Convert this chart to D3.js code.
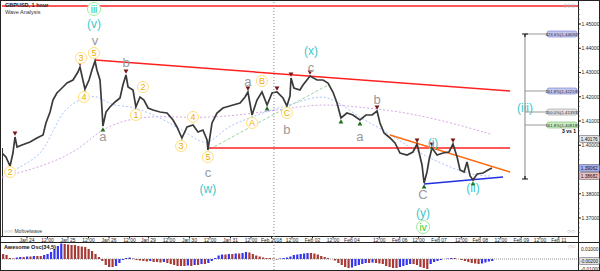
<!DOCTYPE html>
<html>
<head>
<meta charset="utf-8">
<script src="https://cdn.jsdelivr.net/npm/d3@7"></script>
<style>
body { margin: 0; background: #fff; }
svg { display: block; font-family: "Liberation Sans", Arial, sans-serif; }
</style>
</head>
<body>
<svg id="chart" width="600" height="271"></svg>
<script>
// hourly price path (hours from Jan 24 00:00, trading hours only)
const price_hours = [-14.6,-12.3,-9.9,-8.2,-7.0,-5.8,-2.9,1.8,5.8,9.4,11.1,13.5,15.2,17.5,20.5,23.4,26.9,29.8,31.0,32.7,
  33.9,36.3,38.0,39.8,40.9,42.7,43.9,44.4,46.2,48.5,51.5,54.4,56.1,57.9,59.1,62.0,63.7,66.1,68.4,70.8,
  73.7,77.8,81.9,85.4,87.7,90.6,93.6,97.1,100.0,102.9,105.3,105.8,108.2,111.1,114.6,120.5,124.6,127.5,129.2,131.6,
  134.5,137.4,140.4,143.3,146.2,149.7,152.0,153.8,154.4,156.1,159.6,161.4,163.7,165.5,169.6,173.1,176.0,178.9,181.3,183.6,
  187.1,190.6,194.7,198.2,201.8,204.7,206.4,208.8,212.3,215.2,218.1,222.2,225.7,228.1,229.2,231.0,232.2,233.9,235.1,236.8,
  239.8,243.3,246.8,249.1,251.5,253.2,255.6,257.3,259.1,260.8,263.2,266.7,269.6,271.9];
const price_values = [1.39680,1.39515,1.39144,1.39680,1.40340,1.39928,1.40010,1.40134,1.40299,1.40423,1.40918,1.41371,1.41866,1.42155,1.42361,1.42567,1.42691,1.43021,1.43227,1.42691,
  1.42320,1.42691,1.43103,1.43474,1.43103,1.42691,1.41454,1.40794,1.41371,1.41577,1.41784,1.41948,1.42485,1.42897,1.42402,1.42278,1.41577,1.41990,1.41866,1.41536,
  1.41454,1.41371,1.41330,1.41041,1.40753,1.40299,1.40753,1.40835,1.40546,1.40629,1.40216,1.39804,1.40918,1.41330,1.41536,1.41660,1.41742,1.41990,1.42196,1.41247,
  1.41866,1.42196,1.41660,1.42155,1.42196,1.41948,1.41619,1.42031,1.42773,1.42361,1.42278,1.42485,1.42691,1.42856,1.42691,1.42691,1.42567,1.42196,1.41742,1.41124,
  1.41330,1.41247,1.41041,1.41247,1.41247,1.41412,1.40918,1.40505,1.40299,1.40093,1.39680,1.39598,1.39722,1.40052,1.39722,1.39186,1.38443,1.38897,1.39392,1.39887,
  1.39598,1.39680,1.39722,1.40052,1.39515,1.38979,1.38897,1.39309,1.38732,1.38567,1.38814,1.38856,1.38979,1.39062];

// fractal markers, as indices into the price path
const fractal_highs = [4,18,23,33,58,64,68,73,85,93,99,103];
const fractal_lows = [2,20,27,45,51,59,62,66,79,82,96,109];

// wave counts: [hour, price, text, kind]
const wave_labels = [
  [39.2,1.45619,"iii","green"],[39.2,1.45000,"(v)","cyan"],[39.8,1.44299,"v","grey"],[39.2,1.43804,"5","orange"],
  [31.6,1.43598,"3","orange"],[33.3,1.41990,"4","orange"],[57.9,1.43392,"b","grey"],[67.8,1.42402,"2","orange"],
  [44.4,1.40340,"a","grey"],[63.7,1.41247,"1","orange"],[90.1,1.39969,"3","orange"],[97.1,1.41165,"4","orange"],
  [-9.9,1.38897,"2","orange"],[105.8,1.39515,"5","orange"],[105.8,1.38856,"c","grey"],[105.8,1.38196,"(w)","cyan"],
  [131.6,1.40918,"A","orange"],[129.2,1.42608,"a","grey"],[137.4,1.42649,"B","orange"],[152.0,1.41330,"C","orange"],
  [152.0,1.40629,"b","grey"],[166.1,1.43186,"c","grey"],[166.1,1.43887,"(x)","cyan"],[204.7,1.41866,"b","grey"],
  [194.7,1.40340,"a","grey"],[237.4,1.40093,"(i)","cyan"],[231.6,1.37948,"C","grey"],[231.6,1.37206,"(y)","cyan"],
  [231.6,1.36629,"iv","green"],[260.8,1.38237,"(ii)","cyan"],[291.2,1.41536,"(iii)","cyan"]
];

// moving averages (sampled)
const ma_slow_hours = [-14.6,13.5,32.7,42.7,62.0,81.9,101.2,130.4,159.6,177.2,194.7,218.1,247.4,270.8];
const ma_slow_values = [1.38680,1.39216,1.39917,1.40660,1.41155,1.41196,1.41113,1.41278,1.41608,1.41691,1.41567,1.41402,1.40948,1.40464];
const ma_fast_hours = [-9.9,-1.2,7.6,13.5,19.3,25.1,32.7,39.8,45.6,51.5,60.2,71.9,83.6,95.3,104.1,110.0,118.7,130.4,142.1,153.8,165.5,174.3,183.0,194.7,206.4,218.1,229.8,241.5,253.2,264.9,270.8];
const ma_fast_values = [1.38886,1.39216,1.39588,1.40299,1.41206,1.41660,1.41948,1.42072,1.41825,1.41619,1.41619,1.41330,1.40918,1.40423,1.40010,1.40299,1.40835,1.41124,1.41454,1.41660,1.41948,1.42031,1.41742,1.41124,1.40711,1.40175,1.39680,1.39268,1.38938,1.38732,1.38732];

// trend lines: [h1, p1, h2, p2, colour]
const trend_lines = [
  [-14.6,1.45742,322.2,1.45742,"#ff2020"],
  [39.8,1.43515,282.5,1.42237,"#ff2020"],
  [105.8,1.39887,282.5,1.39887,"#ff2020"],
  [212.3,1.40423,282.5,1.38897,"#ff6a10"],
  [232.2,1.38402,278.4,1.38691,"#2030e0"]
];
const green_guide = [107.0,1.39846,177.2,1.42526];

// fibonacci projection
const fib_hour = 291.2;
const fib_levels = [1.44588,1.42237,1.41371,1.40835];
const fib_texts = ["423.6%(1.44690)","261.8%(1.42259)","200.0%(1.41393)","161.8%(1.40818)"];
const fib_kinds = ["blue","blue","grey","green"];
const fib_base = 1.38608;

// time axis
const time_tick_hours = [0,12,24,36,48,60,71,83,95,107,119,131,143,155,167,179,190,206,218,229,241,254,265,277,289,300,311];
const time_tick_labels = ["Jan 24","12:00","Jan 25","12:00","Jan 26","12:00","Jan 29","12:00","Jan 30","12:00","Jan 31","12:00",
  "Feb 2018","12:00","Feb 02","12:00","Feb 04","12:00","Feb 06","12:00","Feb 07","12:00","Feb 08","12:00","Feb 09","12:00","Feb 11"];
const month_break_hour = 144.4;

// price axis
const price_ticks = [1.37,1.38,1.39,1.40,1.41,1.42,1.43,1.44,1.45];
const axis_tags = [[1.40258,"1.40176","#e4e4e4"],[1.39062,"1.39062","#a9b0f0"],[1.38732,"1.38682","#f0c0c0"]];

// Awesome oscillator, thousandths, one bar per 2 hours from hour -14
const ao_values = [5,4,1,0.5,1.5,2,2,2.5,2.5,3,3,3,4,5,7,10,13,15.5,15,14.5,
  14,14,13,12.5,12,10,8,5,2,-2,-6,-8,-8,-7,-4,-1,1,1.5,0.5,-1,
  -1.5,-2,-2.5,-2,-3,-3,-3.5,-3,-4,-5,-6,-7,-7,-7,-6.5,-7,-6,-6,-5,-5,
  -4,-2,1,3.5,4.5,4.5,5,5,5.5,5.5,6,7,6.5,5,3.5,2.5,1.5,1,1,0.5,
  -0.5,0.5,1,1.5,2.5,4,4.5,5,5.5,6,6,5.5,4.5,3,2,1,0,-1.5,-4,-6,
  -8,-9,-8.5,-7,-6,-5,-4,-4,-3.5,-4,-4.5,-5,-7,-8,-9,-9,-8,-7,-6,-5,
  -5,-6,-8,-9,-10,-5,-3,-2,-1,0,0.5,1,1,0,-1,-2,-3,-4,-4.5,-5,
  -4.5,-3.5,-2.5,-2];
const ao_ticks = [10,-10];

const W = 600, H = 271;
const plot_left = 2, plot_right = 578, plot_top = 2, plot_bottom = 236;

const svg = d3.select("#chart");

const x = d3.scaleLinear().domain([-14.6, 322.2]).range([plot_left, plot_right]);
const y = d3.scaleLinear().domain([1.37, 1.45]).range([218, 24]);
const ao_y = d3.scaleLinear().domain([-12, 16]).range([271, 243]);

svg.append("defs").append("clipPath").attr("id", "clip")
  .append("rect").attr("x", plot_left).attr("y", plot_top)
  .attr("width", plot_right - plot_left).attr("height", plot_bottom - plot_top);

// frames
svg.append("rect").attr("x", 0.5).attr("y", 0.5).attr("width", W - 1).attr("height", H - 1)
  .attr("fill", "none").attr("stroke", "#222");
svg.append("line").attr("x1", plot_right + 0.5).attr("x2", plot_right + 0.5).attr("y1", 0).attr("y2", H)
  .attr("stroke", "#222");
svg.append("line").attr("x1", 0).attr("x2", plot_right).attr("y1", plot_bottom + 0.5).attr("y2", plot_bottom + 0.5)
  .attr("stroke", "#222");
svg.append("line").attr("x1", 0).attr("x2", W).attr("y1", 242.5).attr("y2", 242.5)
  .attr("stroke", "#222");
// first bar of history at the left edge
svg.append("line").attr("x1", 2.5).attr("x2", 2.5).attr("y1", y(1.39887)).attr("y2", plot_bottom)
  .attr("stroke", "#333");

const plot = svg.append("g").attr("clip-path", "url(#clip)");

// month separator
svg.append("line")
  .attr("x1", x(month_break_hour)).attr("x2", x(month_break_hour))
  .attr("y1", 2).attr("y2", H)
  .attr("stroke", "#888").attr("stroke-dasharray", "1,2");

// moving averages
const ma_line = d3.line().curve(d3.curveBasis);
plot.append("path")
  .attr("d", ma_line(ma_slow_hours.map((h, i) => [x(h), y(ma_slow_values[i])])))
  .attr("fill", "none").attr("stroke", "#d9a6e6").attr("stroke-dasharray", "2,2");
plot.append("path")
  .attr("d", ma_line(ma_fast_hours.map((h, i) => [x(h), y(ma_fast_values[i])])))
  .attr("fill", "none").attr("stroke", "#a8c4ff").attr("stroke-dasharray", "2,2");
plot.append("line")
  .attr("x1", x(green_guide[0])).attr("y1", y(green_guide[1]))
  .attr("x2", x(green_guide[2])).attr("y2", y(green_guide[3]))
  .attr("stroke", "#9ad49a").attr("stroke-dasharray", "3,2");

// trend lines
plot.selectAll(".trend").data(trend_lines).join("line")
  .attr("x1", d => x(d[0])).attr("y1", d => y(d[1]))
  .attr("x2", d => x(d[2])).attr("y2", d => y(d[3]))
  .attr("stroke", d => d[4]).attr("stroke-width", 1.5);

// price path
const price_line = d3.line().x(d => x(d[0])).y(d => y(d[1]));
plot.append("path")
  .attr("d", price_line(price_hours.map((h, i) => [h, price_values[i]])))
  .attr("fill", "none").attr("stroke", "#3a3a3a").attr("stroke-width", 1.7)
  .attr("stroke-linejoin", "miter");

// fractals
const tri = d3.symbol(d3.symbolTriangle, 10);
plot.selectAll(".fhigh").data(fractal_highs).join("path")
  .attr("d", tri)
  .attr("transform", i => `translate(${x(price_hours[i])},${y(price_values[i]) - 4}) rotate(180)`)
  .attr("fill", "#7a1414");
plot.selectAll(".flow").data(fractal_lows).join("path")
  .attr("d", tri)
  .attr("transform", i => `translate(${x(price_hours[i])},${y(price_values[i]) + 4})`)
  .attr("fill", "#1e6e1e");

// fibonacci projection
const fib_x = x(fib_hour);
const fib = svg.append("g");
fib.append("line").attr("x1", fib_x).attr("x2", fib_x)
  .attr("y1", y(fib_levels[0])).attr("y2", y(fib_base))
  .attr("stroke", "#999").attr("stroke-width", 1.2);
fib.selectAll(".lvl").data(fib_levels).join("line")
  .attr("x1", fib_x).attr("x2", fib_x + 22)
  .attr("y1", d => y(d)).attr("y2", d => y(d))
  .attr("stroke", "#999");
const box_fill = { blue: "#c4c9f2", grey: "#e4e4e4", green: "#c6efc0" };
const box_stroke = { blue: "#6d76c4", grey: "#999", green: "#7cb36f" };
fib.selectAll(".box").data(fib_levels).join("rect")
  .attr("x", fib_x + 22).attr("y", d => y(d) - 3)
  .attr("width", 30).attr("height", 6).attr("rx", 2)
  .attr("fill", (d, i) => box_fill[fib_kinds[i]])
  .attr("stroke", (d, i) => box_stroke[fib_kinds[i]]).attr("stroke-width", 0.6);
fib.selectAll(".boxt").data(fib_levels).join("text")
  .attr("x", fib_x + 37).attr("y", d => y(d) + 1.6)
  .attr("text-anchor", "middle").attr("font-size", 4.3).attr("fill", "#223")
  .text((d, i) => fib_texts[i]);
fib.append("path").attr("d", `M${fib_x - 3},${y(fib_levels[0])}h6M${fib_x},${y(fib_levels[0])}v3`)
  .attr("stroke", "#111").attr("stroke-width", 1.2);
fib.append("path").attr("d", `M${fib_x - 3},${y(fib_base)}h6M${fib_x},${y(fib_base)}v-3`)
  .attr("stroke", "#111").attr("stroke-width", 1.2);
svg.append("text").attr("x", 576).attr("y", y(fib_levels[3]) + 8)
  .attr("text-anchor", "end").attr("font-size", 5).attr("font-weight", "bold").text("3 vs 1");

// wave labels
const labels = plot.selectAll(".wave").data(wave_labels).join("g")
  .attr("transform", d => `translate(${x(d[0])},${y(d[1])})`);
labels.filter(d => d[3] === "orange").append("circle")
  .attr("r", 5.5).attr("fill", "#fff").attr("stroke", "#ffe07a").attr("stroke-width", 1);
labels.filter(d => d[3] === "green").append("circle")
  .attr("r", 6.5).attr("fill", "#fff").attr("stroke", "#9fea9f").attr("stroke-width", 1);
labels.append("text")
  .attr("text-anchor", "middle")
  .attr("dy", d => d[3] === "grey" ? "0.3em" : "0.36em")
  .attr("font-size", d => ({ orange: 9, green: 10, grey: 13, cyan: 12 })[d[3]])
  .attr("fill", d => ({ orange: "#f2a900", green: "#33cc33", grey: "#9a9a9a", cyan: "#3cc8c8" })[d[3]])
  .text(d => d[2]);

// title and small chart icons
svg.append("text").attr("x", 5).attr("y", 7).attr("font-size", 5.5).attr("font-weight", "bold")
  .attr("fill", "#222").text("GBPUSD, 1 hour");
svg.append("text").attr("x", 5).attr("y", 14).attr("font-size", 5.5)
  .attr("fill", "#333").text("Wave Analysis");
svg.append("text").attr("x", 4).attr("y", 233).attr("font-size", 5)
  .attr("fill", "#333").text("\u25cb\u25cb\u25cb Moltvelwave");
svg.append("text").attr("x", 575).attr("y", 7).attr("text-anchor", "end").attr("font-size", 5)
  .attr("fill", "#aaa").text("\u25ce\u25ce\u25ce");
svg.append("text").attr("x", 575).attr("y", 233).attr("text-anchor", "end").attr("font-size", 5)
  .attr("fill", "#aaa").text("\u25c7\u25c7");
svg.append("text").attr("x", 575).attr("y", 248).attr("text-anchor", "end").attr("font-size", 5)
  .attr("fill", "#aaa").text("\u25c7\u25a1");

// price axis
const price_axis = svg.append("g").attr("transform", `translate(${plot_right},0)`);
price_axis.selectAll(".minor").data(d3.range(1.364, 1.458, 0.002)).join("line")
  .attr("x1", 0).attr("x2", 2).attr("y1", d => y(d)).attr("y2", d => y(d))
  .attr("stroke", "#444").attr("stroke-width", 0.5);
price_axis.selectAll(".major").data(price_ticks).join("line")
  .attr("x1", 0).attr("x2", 3).attr("y1", d => y(d)).attr("y2", d => y(d))
  .attr("stroke", "#222");
// labels hidden under a price tag are left out, as in the terminal
const visible_ticks = price_ticks.filter(t => axis_tags.every(g => Math.abs(y(t) - y(g[0])) > 6));
price_axis.selectAll(".lab").data(visible_ticks).join("text")
  .attr("x", 3.5).attr("y", d => y(d) + 1.8).attr("font-size", 5).attr("fill", "#222")
  .text(d => d.toFixed(5));
price_axis.selectAll(".tag").data(axis_tags).join("rect")
  .attr("x", 1).attr("y", d => y(d[0]) - 3.5).attr("width", 20.5).attr("height", 7).attr("rx", 1.5)
  .attr("fill", d => d[2]).attr("stroke", "#667").attr("stroke-width", 0.6);
price_axis.selectAll(".tagt").data(axis_tags).join("text")
  .attr("x", 11.2).attr("y", d => y(d[0]) + 1.7).attr("text-anchor", "middle")
  .attr("font-size", 4.7).attr("fill", "#111").text(d => d[1]);

// time axis
const time_axis = svg.append("g");
time_axis.selectAll("line").data(time_tick_hours).join("line")
  .attr("x1", d => x(d)).attr("x2", d => x(d)).attr("y1", 236).attr("y2", 238.5)
  .attr("stroke", "#222");
time_axis.selectAll("text").data(time_tick_hours).join("text")
  .attr("x", d => x(d)).attr("y", 241.5).attr("text-anchor", "middle")
  .attr("font-size", 5).attr("fill", "#222")
  .text((d, i) => time_tick_labels[i]);

// awesome oscillator
const ao_hours = d3.range(ao_values.length).map(i => -14 + 2 * i);
svg.append("line").attr("x1", plot_left).attr("x2", plot_right)
  .attr("y1", ao_y(0)).attr("y2", ao_y(0))
  .attr("stroke", "#999").attr("stroke-dasharray", "1,1");
svg.append("g").selectAll("rect").data(ao_values).join("rect")
  .attr("x", (d, i) => x(ao_hours[i]) - 1)
  .attr("width", 2.2)
  .attr("y", d => ao_y(Math.max(0, d)))
  .attr("height", d => Math.abs(ao_y(d) - ao_y(0)))
  .attr("fill", (d, i) => (i > 0 && d > ao_values[i - 1]) ? "#3535f0" : "#a83a36");
svg.append("text").attr("x", 4).attr("y", 249).attr("font-size", 5.5).attr("font-weight", "bold")
  .attr("fill", "#111").text("Awesome Osc(34,5)");
const ao_axis = svg.append("g").attr("transform", `translate(${plot_right},0)`);
ao_axis.selectAll("text").data(ao_ticks).join("text")
  .attr("x", 3).attr("y", d => ao_y(d) + 1.8).attr("font-size", 4.8).attr("fill", "#222")
  .text(d => (d / 1000).toFixed(5));
const ao_last = ao_values[ao_values.length - 1];
ao_axis.append("rect").attr("x", 1).attr("y", ao_y(ao_last) - 3.5)
  .attr("width", 20.5).attr("height", 7).attr("rx", 1.5)
  .attr("fill", "#e4e4e4").attr("stroke", "#667").attr("stroke-width", 0.6);
ao_axis.append("text").attr("x", 11.2).attr("y", ao_y(ao_last) + 1.7)
  .attr("text-anchor", "middle").attr("font-size", 4.5).attr("fill", "#111")
  .text((ao_last / 1000).toFixed(5));
</script>
</body>
</html>
